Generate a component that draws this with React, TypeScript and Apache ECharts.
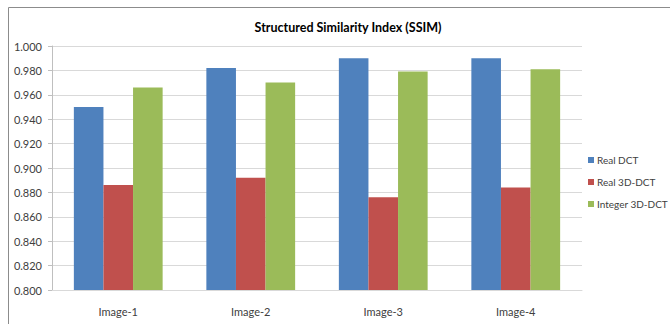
import React, { useEffect, useRef } from "react";
import * as echarts from "echarts";

const categories = ["Image-1", "Image-2", "Image-3", "Image-4"];
const realDct = [0.95, 0.982, 0.99, 0.99];
const real3dDct = [0.886, 0.892, 0.876, 0.884];
const integer3dDct = [0.966, 0.97, 0.979, 0.981];
const seriesNames = ["Real DCT", "Real 3D-DCT", "Integer 3D-DCT"];
const colors = ["#4F81BD", "#C0504D", "#9BBB59"];

const FONT = "Lato, 'Open Sans', sans-serif";

export default function App() {
  const ref = useRef<HTMLDivElement>(null);

  useEffect(() => {
    if (!ref.current) return;
    const chart = echarts.init(ref.current, undefined, { renderer: "svg" });
    const data = [realDct, real3dDct, integer3dDct];
    chart.setOption({
      animation: false,
      backgroundColor: "#ffffff",
      title: {
        text: "Structured Similarity Index (SSIM)",
        left: 343,
        top: 16,
        textAlign: "center",
        textStyle: { fontFamily: FONT, fontSize: 12.5, fontWeight: "bold", color: "#000000" },
      },
      graphic: [
        {
          type: "rect",
          shape: { x: 8.5, y: 7.5, width: 700, height: 400 },
          style: { fill: "none", stroke: "#8c8c8c", lineWidth: 1 },
          silent: true,
          z: -1,
        },
      ],
      legend: {
        orient: "vertical",
        left: 588,
        top: 154,
        padding: 0,
        itemWidth: 6,
        itemHeight: 6,
        itemGap: 10,
        icon: "rect",
        textStyle: { fontFamily: FONT, fontSize: 10, lineHeight: 12, color: "#404040", padding: [0, 0, 0, -2] },
        data: seriesNames,
      },
      grid: { left: 52, right: 88, top: 46, bottom: 34, containLabel: false },
      xAxis: {
        type: "category",
        data: categories,
        axisLine: { show: true, lineStyle: { color: "#d9d9d9" } },
        axisTick: { show: false },
        axisLabel: { fontFamily: FONT, fontSize: 11, color: "#404040", margin: 16 },
      },
      yAxis: {
        type: "value",
        min: 0.8,
        max: 1.0,
        interval: 0.02,
        axisLine: { show: true, lineStyle: { color: "#bfbfbf" } },
        axisTick: { show: true, length: 4, lineStyle: { color: "#bfbfbf" } },
        splitLine: { lineStyle: { color: "#d9d9d9", width: 1 } },
        axisLabel: {
          fontFamily: FONT,
          fontSize: 11,
          color: "#404040",
          margin: 10,
          formatter: (v: number) => v.toFixed(3),
        },
      },
      series: seriesNames.map((name, i) => ({
        name,
        type: "bar",
        data: data[i],
        barGap: "0%",
        barCategoryGap: "33%",
        itemStyle: { color: colors[i] },
      })),
    });
    return () => chart.dispose();
  }, []);

  return (
    <div
      ref={ref}
      style={{ position: "absolute", left: 0, top: 0, width: 670, height: 324 }}
    />
  );
}
